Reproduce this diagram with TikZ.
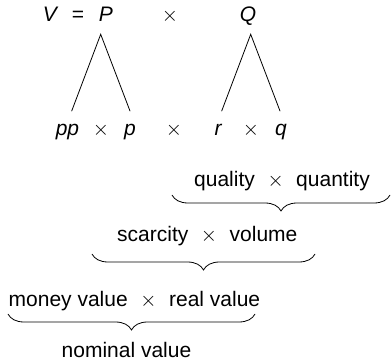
\documentclass[tikz,border=0pt]{standalone}
\usepackage{fontspec}
\setmainfont{Liberation Sans}
\usetikzlibrary{decorations.pathreplacing}
\newcommand{\tms}{$\times$}
\begin{document}
\begin{tikzpicture}[x=1pt,y=-1pt,
  txt/.style={font=\fontsize{21}{25}\selectfont, inner sep=0pt, anchor=base},
  var/.style={txt, font=\fontsize{21}{25}\selectfont\itshape},
  lbl/.style={txt, anchor=base west},
  tree/.style={line width=0.8pt, line cap=round},
  brc/.style={line width=0.8pt, decorate, decoration={brace, mirror, amplitude=16pt}}]
\useasboundingbox (0,0) rectangle (391,363);
% top row
\node[var] (V) at (50,22) {V};
\node[txt] (eq) at (78,22) {=};
\node[var] (P) at (106,22) {P};
\node[txt] (t0) at (170,22) {\tms};
\node[var] (Q) at (248,22) {Q};
% second row
\node[var] (pp) at (67.5,136) {pp};
\node[txt] (t1) at (101,136) {\tms};
\node[var] (p) at (130,136) {p};
\node[txt] (t2) at (174,136) {\tms};
\node[var] (r) at (218,136) {r};
\node[txt] (t3) at (251,136) {\tms};
\node[var] (q) at (281,136) {q};
% tree lines
\coordinate (Pa) at (100.7,34.3);
\coordinate (Pl) at (71.7,111);
\coordinate (Pr) at (130,111);
\coordinate (Qa) at (250.7,34.3);
\coordinate (Ql) at (221.7,111);
\coordinate (Qr) at (280,111);
\draw[tree] (Pl) -- (Pa) -- (Pr);
\draw[tree] (Ql) -- (Qa) -- (Qr);
% labelled lines
\node[lbl] (qq) at (194,187) {quality\hspace{0.6em}\tms\hspace{0.6em}quantity};
\coordinate (b1l) at (172,195);
\coordinate (b1r) at (390,195);
\draw[brc] (b1l) -- (b1r);
\node[lbl] (sv) at (117,242) {scarcity\hspace{0.6em}\tms\hspace{0.6em}volume};
\coordinate (b2l) at (92,254);
\coordinate (b2r) at (315,254);
\draw[brc] (b2l) -- (b2r);
\node[lbl] (mr) at (8.5,307) {money value\hspace{0.6em}\tms\hspace{0.6em}real value};
\coordinate (b3l) at (8,314);
\coordinate (b3r) at (255,314);
\draw[brc] (b3l) -- (b3r);
\node[lbl] (nv) at (61.5,357) {nominal value};
\end{tikzpicture}
\end{document}
